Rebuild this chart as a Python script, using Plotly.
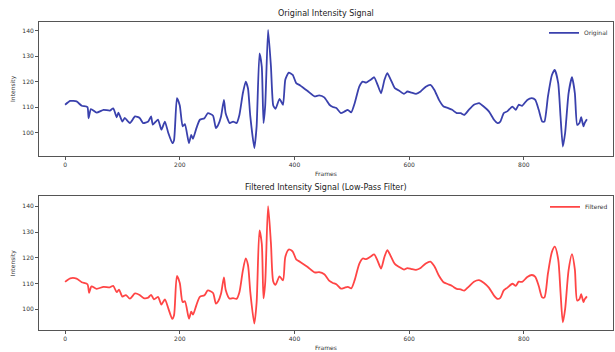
import plotly.graph_objects as go
from plotly.subplots import make_subplots

# Raw intensity trace (frame, value)
orig_frames = [0, 9, 20, 29, 39, 41, 45, 55, 67, 78, 84, 90, 93, 100, 104, 113, 122, 130,
               136, 145, 150, 153, 162, 168, 174, 180, 187, 190, 195, 200, 205, 209, 216,
               220, 223, 229, 235, 243, 249, 258, 263, 267, 272, 277, 280, 287, 293, 299,
               304, 310, 315, 319, 323, 330, 334, 339, 343, 346, 349, 354, 359, 363, 367,
               374, 380, 384, 390, 397, 403, 410, 423, 435, 443, 452, 461, 467, 473, 481,
               487, 493, 499, 505, 513, 519, 525, 533, 539, 545, 551, 557, 562, 568, 575,
               582, 591, 597, 604, 612, 620, 629, 637, 644, 652, 660, 668, 675, 683, 690,
               696, 704, 713, 722, 730, 739, 748, 754, 759, 765, 771, 780, 786, 791, 797,
               806, 814, 820, 826, 832, 836, 842, 849, 854, 860, 864, 868, 872, 878, 884,
               889, 893, 897, 900, 904, 906, 910]
orig_values = [110.9, 112.4, 112.2, 110.5, 110.0, 105.6, 109.2, 107.8, 108.9, 108.6, 109.5,
               106.0, 107.8, 104.3, 105.7, 103.7, 106.3, 105.7, 103.7, 104.3, 106.3, 103.1,
               105.1, 101.1, 104.3, 99.8, 95.8, 97.0, 113.5, 110.6, 102.4, 103.3, 95.8, 99.1,
               97.5, 101.7, 105.0, 105.6, 107.6, 106.6, 101.7, 103.0, 106.3, 112.8, 107.6,
               103.7, 104.3, 103.7, 106.9, 115.4, 120.0, 117.3, 106.3, 93.9, 102.4, 131.1,
               125.9, 103.7, 110.6, 140.3, 125.9, 110.6, 109.3, 113.2, 110.9, 120.7, 123.5,
               122.6, 119.4, 118.5, 116.3, 114.2, 114.6, 113.8, 110.9, 110.0, 109.6, 107.6,
               108.2, 108.9, 107.9, 111.5, 118.0, 120.0, 119.6, 120.7, 121.7, 118.7, 115.4,
               120.7, 123.3, 120.7, 117.4, 116.5, 115.2, 116.1, 115.7, 115.2, 116.1, 118.0,
               118.7, 116.7, 112.8, 110.2, 109.6, 108.9, 107.6, 107.6, 106.9, 108.9, 110.9,
               111.5, 110.2, 108.3, 105.0, 103.7, 104.3, 107.6, 108.3, 110.2, 108.9, 110.9,
               110.5, 112.8, 113.5, 112.8, 108.9, 104.3, 104.3, 114.1, 122.6, 124.6, 119.3,
               106.3, 94.5, 99.8, 115.4, 121.7, 115.4, 103.0, 103.7, 106.0, 102.4, 103.7,
               105.2]

# Low-pass filtered trace (frame, value)
filt_frames = [0, 9, 20, 29, 39, 42, 46, 55, 67, 78, 84, 90, 94, 100, 106, 113, 122, 130,
               137, 145, 150, 155, 162, 168, 174, 180, 187, 190, 195, 200, 205, 209, 216,
               220, 223, 229, 235, 243, 249, 258, 263, 267, 272, 277, 280, 287, 293, 299,
               304, 310, 315, 319, 323, 330, 334, 339, 343, 346, 349, 354, 359, 363, 367,
               374, 380, 384, 390, 397, 403, 410, 423, 435, 443, 452, 461, 467, 473, 481,
               487, 493, 499, 505, 513, 519, 525, 533, 539, 545, 551, 557, 562, 568, 575,
               582, 591, 597, 604, 612, 620, 629, 637, 644, 652, 660, 668, 675, 683, 690,
               696, 704, 713, 722, 730, 739, 748, 754, 759, 765, 771, 780, 786, 791, 797,
               806, 814, 820, 826, 832, 836, 842, 849, 854, 860, 864, 868, 872, 878, 884,
               889, 893, 897, 900, 904, 906, 910]
filt_values = [110.6, 112.0, 111.9, 110.5, 109.7, 106.4, 108.9, 107.9, 108.7, 108.5, 109.1,
               106.6, 107.6, 104.9, 105.5, 104.1, 106.1, 105.5, 104.3, 104.5, 105.6, 103.8,
               104.8, 101.8, 103.8, 100.3, 96.2, 97.6, 112.9, 110.2, 102.8, 103.1, 96.3,
               99.0, 97.9, 101.6, 104.8, 105.4, 107.3, 106.3, 102.2, 103.1, 106.1, 112.4,
               107.6, 104.1, 104.3, 104.0, 106.6, 115.0, 119.8, 117.1, 106.6, 94.4, 102.6,
               130.6, 125.5, 104.2, 110.4, 140.1, 125.6, 110.8, 109.5, 112.8, 111.2, 120.3,
               123.2, 122.4, 119.4, 118.4, 116.4, 114.3, 114.4, 113.6, 111.0, 110.2, 109.7,
               108.0, 108.3, 108.7, 108.1, 111.3, 117.6, 119.7, 119.5, 120.5, 121.3, 118.8,
               115.8, 120.4, 123.0, 120.6, 117.6, 116.5, 115.4, 116.0, 115.6, 115.3, 116.0,
               117.8, 118.5, 116.7, 113.0, 110.5, 109.7, 109.0, 107.9, 107.7, 107.2, 108.8,
               110.7, 111.3, 110.3, 108.4, 105.3, 104.0, 104.4, 107.3, 108.3, 109.9, 109.1,
               110.7, 110.6, 112.5, 113.3, 112.6, 109.0, 104.6, 104.6, 113.8, 122.3, 124.3,
               119.3, 106.6, 94.9, 100.0, 115.1, 121.4, 115.4, 103.4, 103.9, 105.8, 102.8,
               103.8, 105.0]

x_ticks = [0, 200, 400, 600, 800]
y_ticks = [100, 110, 120, 130, 140]

BLUE = "#3a41ad"
RED = "#ff4545"
FONT = "DejaVu Sans"

fig = make_subplots(rows=2, cols=1, vertical_spacing=0.132,
                    subplot_titles=("Original Intensity Signal",
                                    "Filtered Intensity Signal (Low-Pass Filter)"))

fig.add_trace(go.Scatter(x=orig_frames, y=orig_values, mode="lines", name="Original",
                         line=dict(color=BLUE, width=1.8, shape="spline", smoothing=0.5),
                         legend="legend"), row=1, col=1)
fig.add_trace(go.Scatter(x=filt_frames, y=filt_values, mode="lines", name="Filtered",
                         line=dict(color=RED, width=1.8, shape="spline", smoothing=0.7),
                         legend="legend2"), row=2, col=1)

axis_style = dict(showgrid=False, zeroline=False, showline=True, mirror=True,
                  linecolor="#555555", linewidth=1, ticks="outside", ticklen=3,
                  tickcolor="#555555", tickfont=dict(family=FONT, size=6, color="#333333"))

fig.update_xaxes(range=[-45.5, 955.5], tickvals=x_ticks, **axis_style)
fig.update_yaxes(tickvals=y_ticks, **axis_style)
fig.update_yaxes(range=[90.9, 143.4], row=1, col=1)
fig.update_yaxes(range=[91.9, 143.9], row=2, col=1)

label_font = dict(family=FONT, size=6, color="#333333")
for r in (1, 2):
    fig.update_xaxes(title=dict(text="Frames", font=label_font, standoff=4), row=r, col=1)
    fig.update_yaxes(title=dict(text="Intensity", font=label_font, standoff=6), row=r, col=1)

for ann in fig.layout.annotations:
    ann.font = dict(family=FONT, size=8, color="#222222")
    ann.yshift = 2

legend_style = dict(xanchor="right", yanchor="top", x=1.0,
                    bgcolor="rgba(255,255,255,0)", borderwidth=0,
                    font=dict(family=FONT, size=6, color="#333333"),
                    itemwidth=30, tracegroupgap=0)

fig.update_layout(
    width=615, height=352,
    margin=dict(l=39, r=2, t=22, b=22),
    paper_bgcolor="white", plot_bgcolor="white",
    showlegend=True,
    legend=dict(y=1.012, **legend_style),
    legend2=dict(y=0.447, **legend_style),
)

fig.write_html("out.html")
